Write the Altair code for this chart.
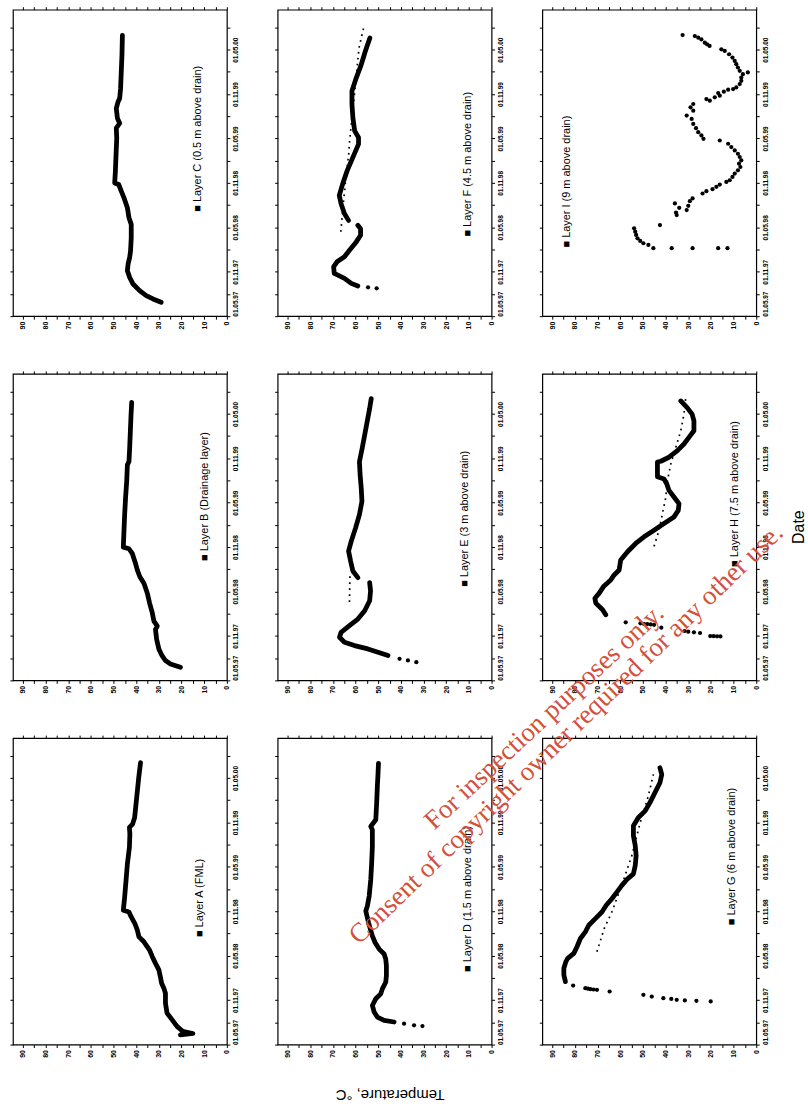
import altair as alt
import pandas as pd

# ---------------- axis definitions ----------------
T_DOMAIN = [0, 94.4]          # temperature, degC (drawn right -> left)
M_DOMAIN = [0, 41.4]          # months after 01.05.97 (drawn bottom -> top)
TEMP_TICKS = list(range(0, 95, 5))
MONTH_TICKS = list(range(0, 42, 3))
DATE_LABELS = ["01.05.97", "01.11.97", "01.05.98", "01.11.98", "01.05.99", "01.11.99", "01.05.00"]

# ---------------- data (month after 01.05.97, temperature degC) ----------------
A_LINE_MONTH = [1.3, 1.5, 1.8, 2.46, 3.36, 4.25, 5.6, 6.94, 7.6, 8.28, 9.09, 10.08, 10.97, 11.87, 12.76, 13.88,
                14.55, 15.45, 16.35, 17.24, 17.91, 18.14, 19.93, 22.17, 24.41, 26.65, 28.44, 29.33, 29.78, 30.68,
                32.47, 34.26, 36.05, 38.07]
A_LINE_TEMP = [20.5, 15.0, 19.5, 22.0, 24.2, 26.4, 27.1, 27.1, 27.8, 28.8, 29.3, 30.0, 31.5, 32.9, 34.1, 36.6,
               38.8, 39.5, 40.6, 42.2, 43.2, 45.7, 45.1, 44.5, 43.9, 43.0, 42.8, 43.0, 41.6, 40.7,
               40.1, 39.5, 38.9, 38.1]

B_LINE_MONTH = [1.78, 2.22, 2.67, 3.33, 4.22, 5.56, 6.89, 7.33, 8.0, 9.11, 10.44, 11.78, 13.11, 14.0, 14.89,
                15.78, 17.11, 17.78, 18.0, 20.22, 22.44, 24.67, 26.89, 29.11, 29.56, 31.33, 33.56, 35.78, 37.56]
B_LINE_TEMP = [20.5, 24.9, 27.1, 28.6, 30.0, 31.0, 31.5, 30.7, 32.2, 32.9, 34.1, 35.1, 36.6, 38.4, 39.5,
               40.3, 41.7, 43.2, 45.7, 45.4, 45.1, 44.7, 44.2, 43.9, 43.2, 42.9, 42.6, 42.3, 42.0]

C_LINE_MONTH = [1.88, 2.33, 2.78, 3.45, 4.34, 5.24, 6.14, 7.03, 7.93, 8.82, 10.61, 12.4, 13.3, 14.64, 15.99,
                16.88, 17.78, 18.0, 19.57, 21.81, 24.05, 25.4, 26.06, 26.73, 28.08, 28.97, 29.42, 30.77, 33.0,
                35.24, 37.93]
C_LINE_TEMP = [29.0, 32.6, 35.6, 38.5, 41.4, 42.9, 43.9, 43.6, 42.9, 42.5, 42.2, 42.2, 43.2, 43.9, 45.4,
               46.6, 47.7, 49.5, 49.2, 48.9, 48.6, 48.8, 47.3, 48.3, 48.8, 48.0, 47.3, 46.9, 46.6,
               46.3, 46.1]

D_DOT_MONTH = [2.5, 2.6, 2.82]
D_DOT_TEMP = [30.5, 34.2, 38.6]
D_LINE_MONTH = [3.05, 3.27, 3.72, 4.39, 5.28, 6.18, 6.85, 7.52, 8.42, 9.31, 10.66, 11.55, 12.23, 12.9, 13.79,
                14.69, 16.48, 18.05, 18.72, 20.06, 22.3, 24.54, 26.78, 29.02, 29.47, 30.36, 32.6, 34.84, 36.63,
                37.98]
D_LINE_TEMP = [43.0, 47.4, 50.4, 51.8, 52.6, 51.1, 48.9, 48.2, 46.7, 46.4, 46.4, 46.7, 47.4, 49.6, 51.4,
               52.6, 54.3, 55.5, 54.8, 54.0, 53.3, 52.9, 52.6, 52.6, 53.3, 51.1, 50.7, 50.4, 50.1,
               49.9]

E_DOT_MONTH = [2.46, 2.69, 2.91]
E_DOT_TEMP = [33.2, 36.9, 40.6]
E_LINE1_MONTH = [3.36, 3.81, 4.25, 4.7, 5.15, 5.82, 6.49, 7.39, 8.28, 9.4, 10.75, 12.09, 13.21]
E_LINE1_TEMP = [45.7, 50.1, 54.6, 60.5, 64.9, 67.1, 66.4, 62.7, 59.0, 56.0, 53.8, 53.4, 53.8]
E_LINE2_MONTH = [13.88, 14.78, 16.12, 17.47, 18.81, 20.6, 22.39, 24.18, 25.97, 27.76, 29.55, 31.34, 33.13,
                 34.93, 36.72, 38.06]
E_LINE2_TEMP = [59.0, 61.2, 62.2, 63.1, 61.9, 60.0, 58.3, 57.2, 57.5, 58.0, 58.3, 57.1, 56.0,
                54.9, 53.8, 53.1]
E_FIT_MONTH = [10.6, 14.2]
E_FIT_TEMP = [62.7, 62.5]

F_DOT_MONTH = [3.76, 3.9]
F_DOT_TEMP = [50.7, 54.5]
F_LINE1_MONTH = [4.08, 4.43, 5.11, 5.78, 6.67, 7.34, 8.02, 8.91, 10.03, 10.93, 11.82, 12.27]
F_LINE1_TEMP = [59.0, 61.9, 64.9, 69.4, 69.7, 68.2, 64.9, 62.7, 59.7, 57.8, 57.8, 59.0]
F_LINE2_MONTH = [12.94, 13.84, 15.18, 16.3, 17.87, 19.66, 21.45, 23.24, 24.14, 25.03, 26.82, 28.62, 30.41,
                 32.2, 33.99, 35.78, 37.57]
F_LINE2_TEMP = [63.1, 64.9, 66.4, 67.2, 65.7, 63.7, 61.2, 58.7, 58.7, 60.4, 61.2, 61.6, 61.6,
                59.7, 57.5, 55.7, 53.7]
F_FIT_MONTH = [11.4, 15.0, 18.0, 22.0, 23.5, 27.0, 30.0, 33.0, 36.2, 37.6, 39.1]
F_FIT_TEMP = [66.5, 65.5, 64.5, 63.0, 62.7, 61.5, 60.5, 59.5, 58.5, 57.5, 56.3]

G_DOT_MONTH = [5.82, 5.91, 5.96, 6.05, 6.16, 6.27, 6.49, 6.72, 7.17, 7.39, 7.44, 7.48, 7.55, 7.61, 7.97]
G_DOT_TEMP = [20.1, 26.4, 31.5, 35.1, 37.5, 41.0, 46.1, 49.8, 64.7, 70.3, 71.8, 73.2, 74.3, 75.4, 80.8]
G_LINE_MONTH = [8.5, 9.4, 10.3, 11.2, 11.64, 12.32, 13.21, 14.33, 15.23, 16.12, 17.02, 17.91, 18.81, 19.7,
                20.6, 21.5, 22.39, 23.06, 24.18, 25.52, 26.87, 28.21, 29.55, 30.68, 31.57, 32.69, 34.03,
                35.37, 36.49, 37.39]
G_LINE_TEMP = [84.2, 84.9, 84.9, 84.0, 83.2, 80.5, 79.1, 77.6, 75.4, 73.9, 71.0, 68.1, 66.2, 63.7,
               61.5, 59.3, 56.8, 54.2, 53.4, 53.0, 53.4, 54.2, 54.2, 52.0, 49.0, 46.9, 44.7,
               42.5, 41.7, 42.5]
G_FIT_MONTH = [12.54, 15.67, 17.91, 21.94, 25.52, 30.0, 33.6, 36.5]
G_FIT_TEMP = [70.3, 67.1, 63.7, 58.9, 54.9, 51.2, 47.6, 45.4]

H_DOT_MONTH = [5.93, 5.95, 5.97, 5.99, 6.4, 6.49, 6.58, 6.67, 7.12, 7.5, 7.55, 7.6, 7.65, 7.7, 7.84]
H_DOT_TEMP = [15.8, 17.3, 18.8, 20.3, 24.8, 27.5, 30.0, 31.6, 41.9, 45.1, 46.6, 48.1, 49.6, 51.1, 57.6]
H_LINE_MONTH = [8.87, 9.54, 10.43, 11.1, 11.78, 12.67, 13.57, 14.24, 14.91, 16.26, 17.38, 18.49, 19.39,
                20.29, 21.18, 22.08, 22.97, 23.87, 24.77, 25.66, 26.56, 27.2, 27.5, 29.5, 29.6, 30.14,
                31.03, 31.93, 32.82, 33.72, 35.06, 35.96, 36.85, 37.75]
H_LINE_TEMP = [66.4, 67.8, 70.8, 71.2, 69.3, 67.4, 64.2, 62.7, 60.5, 59.8, 56.8, 53.2, 49.5,
               45.1, 40.7, 36.3, 34.4, 34.1, 36.3, 38.5, 39.5, 40.7, 43.6, 43.6, 42.1, 38.5,
               34.8, 31.9, 29.7, 27.5, 27.5, 28.3, 30.5, 33.3]
H_FIT_MONTH = [18.1, 20.29, 22.53, 24.77, 27.0, 29.24, 31.48, 33.72, 35.96, 38.2]
H_FIT_TEMP = [45.1, 42.9, 41.4, 39.9, 39.2, 37.7, 35.5, 33.3, 31.9, 31.1]

I_DOT_MONTH = [9.18, 9.18, 9.18, 9.18, 9.18, 9.63, 9.85, 10.17, 10.52, 10.97, 11.42, 11.87, 12.3,
               13.66, 14.0, 14.33, 14.64, 14.91, 15.23, 15.54, 15.9, 16.57, 16.88, 17.15, 17.47, 17.78,
               18.14, 18.36, 18.81, 19.26, 19.7, 20.15, 20.6, 21.05, 21.5, 21.94, 22.39, 22.84, 23.29,
               23.73, 23.96, 24.41, 24.85, 25.39, 25.97, 26.65, 27.1, 27.76, 28.21, 28.66, 29.11, 29.33,
               29.56, 29.78, 30.14, 30.32, 30.59, 30.68, 30.9, 31.35, 31.79, 32.24, 32.69, 32.92, 33.14,
               33.59, 34.04, 34.48, 34.93, 35.38, 35.83, 36.05, 36.5, 36.72, 36.95, 37.39, 37.62, 37.84,
               37.97]
I_DOT_TEMP = [12.7, 16.8, 28.1, 37.3, 45.4, 47.6, 49.8, 51.2, 52.4, 53.0, 53.4, 53.9, 42.5,
              35.1, 35.4, 30.7, 34.0, 30.0, 35.9, 29.3, 28.1, 23.7, 22.0, 19.3, 17.6, 16.1,
              13.2, 11.7, 10.5, 9.5, 8.1, 7.0, 7.6, 6.6, 7.3, 8.1, 9.5, 11.0, 12.4,
              16.1, 23.3, 24.2, 25.6, 26.6, 27.8, 28.5, 30.7, 27.8, 29.0, 27.8, 20.5, 22.0,
              18.3, 16.1, 16.8, 14.3, 12.4, 10.2, 8.8, 7.3, 6.6, 6.6, 5.9, 3.7, 7.3,
              8.1, 8.8, 9.5, 10.5, 12.0, 13.9, 15.4, 20.6, 21.7, 22.7, 24.2, 25.6, 27.1,
              32.5]

LEGENDS = {
    "A": "\u25a0  Layer A (FML)",
    "B": "\u25a0  Layer B (Drainage layer)",
    "C": "\u25a0  Layer C (0.5 m above drain)",
    "D": "\u25a0  Layer D (1.5 m  above drain)",
    "E": "\u25a0  Layer E (3 m  above drain)",
    "F": "\u25a0  Layer F (4.5 m  above drain)",
    "G": "\u25a0  Layer G (6 m  above drain)",
    "H": "\u25a0  Layer H (7.5 m  above drain)",
    "I": "\u25a0  Layer I (9 m  above drain)",
}

# ---------------- styling ----------------
PW, PH = 215, 308
FONT = "Liberation Sans"
XS = alt.Scale(domain=T_DOMAIN, reverse=True, nice=False, zero=False)
YS = alt.Scale(domain=M_DOMAIN, nice=False, zero=False)

date_expr = "datum.value % 6 == 0 ? [" + ",".join("'%s'" % d for d in DATE_LABELS) + "][datum.value / 6] : ''"
temp_expr = "datum.value % 10 == 0 ? datum.label : ''"

X_MAIN = alt.Axis(orient="bottom", values=TEMP_TICKS, labelExpr=temp_expr, labelAngle=270,
                  labelAlign="right", labelBaseline="middle", labelPadding=2, labelFontSize=7,
                  labelFont=FONT, labelFontWeight="bold", labelColor="black", labelOverlap=False,
                  tickColor="black", tickSize=3, domain=False, grid=False, title=None)
X_MIRROR = alt.Axis(orient="top", values=TEMP_TICKS, labels=False, tickColor="black", tickSize=3,
                    domain=False, grid=False, title=None)
Y_MAIN = alt.Axis(orient="right", values=MONTH_TICKS, labelExpr=date_expr, labelAngle=270,
                  labelAlign={"condition": {"test": "datum.value == 0", "value": "left"}, "value": "center"},
                  labelBaseline="top", labelPadding=3, labelFontSize=6.5, labelFont=FONT,
                  labelFontWeight="bold", labelColor="black", labelOverlap=False,
                  tickColor="black", tickSize=3, domain=False, grid=False, title=None)
Y_MIRROR = alt.Axis(orient="left", values=MONTH_TICKS, labels=False, tickColor="black", tickSize=3,
                    domain=False, grid=False, title=None)


def frame(segs):
    rows = []
    for s, (ms, ts) in enumerate(segs):
        for k, (m, t) in enumerate(zip(ms, ts)):
            rows.append({"month": m, "temp": t, "seg": s, "k": k})
    return pd.DataFrame(rows, columns=["month", "temp", "seg", "k"])


def one():
    return pd.DataFrame({"a": [0]})


def panel(key, lines=(), dots=(), fit=(), lx=190, ly=200, extra=()):
    ldf, ddf, fdf = frame(lines), frame(dots), frame(fit)
    alld = pd.concat([ldf, ddf, fdf], ignore_index=True)
    layers = [
        alt.Chart(alld).mark_point(opacity=0).encode(
            x=alt.X("temp:Q", scale=XS, axis=X_MAIN), y=alt.Y("month:Q", scale=YS, axis=Y_MAIN)),
        alt.Chart(alld).mark_point(opacity=0).encode(
            x=alt.X("temp:Q", scale=XS, axis=X_MIRROR), y=alt.Y("month:Q", scale=YS, axis=Y_MIRROR)),
    ]
    if len(fdf):
        layers.append(alt.Chart(fdf).mark_line(color="black", strokeWidth=1.7, strokeDash=[1.7, 4.3]).encode(
            x=alt.X("temp:Q", scale=XS, axis=None), y=alt.Y("month:Q", scale=YS, axis=None),
            detail="seg:N", order="k:Q"))
    if len(ldf):
        layers.append(alt.Chart(ldf).mark_line(color="black", strokeWidth=4.8, strokeCap="round",
                                               strokeJoin="round").encode(
            x=alt.X("temp:Q", scale=XS, axis=None), y=alt.Y("month:Q", scale=YS, axis=None),
            detail="seg:N", order="k:Q"))
    if len(ddf):
        layers.append(alt.Chart(ddf).mark_circle(color="black", opacity=1, size=18).encode(
            x=alt.X("temp:Q", scale=XS, axis=None), y=alt.Y("month:Q", scale=YS, axis=None)))
    layers.append(alt.Chart(one()).mark_text(text=LEGENDS[key], angle=270, align="left", baseline="middle",
                                             fontSize=11, font=FONT, color="black").encode(
        x=alt.value(lx), y=alt.value(ly)))
    layers.extend(extra)
    return alt.layer(*layers).resolve_axis(x="independent", y="independent").properties(width=PW, height=PH)


temp_title = alt.Chart(one()).mark_text(text="Temperature, \u00b0C", angle=180, align="center", baseline="middle",
                                        fontSize=15, font=FONT, color="black").encode(
    x=alt.value(113), y=alt.value(359))
date_title = alt.Chart(one()).mark_text(text="Date", angle=270, align="center", baseline="middle",
                                        fontSize=16, font=FONT, color="black").encode(
    x=alt.value(258), y=alt.value(154))
wm1 = alt.Chart(one()).mark_text(text="For inspection purposes only.", angle=317, align="center",
                                 baseline="middle", fontSize=27, font="Liberation Serif",
                                 color="#d4503a").encode(x=alt.value(2), y=alt.value(-21))
wm2 = alt.Chart(one()).mark_text(text="Consent of copyright owner required for any other use.", angle=316,
                                 align="center", baseline="middle", fontSize=27, font="Liberation Serif",
                                 color="#d4503a").encode(x=alt.value(24), y=alt.value(-4))

pA = panel("A", lines=[(A_LINE_MONTH, A_LINE_TEMP)], lx=188, ly=200)
pB = panel("B", lines=[(B_LINE_MONTH, B_LINE_TEMP)], lx=193, ly=188)
pC = panel("C", lines=[(C_LINE_MONTH, C_LINE_TEMP)], lx=186, ly=203)
pD = panel("D", lines=[(D_LINE_MONTH, D_LINE_TEMP)], dots=[(D_DOT_MONTH, D_DOT_TEMP)], lx=191, ly=235,
           extra=[temp_title])
pE = panel("E", lines=[(E_LINE1_MONTH, E_LINE1_TEMP), (E_LINE2_MONTH, E_LINE2_TEMP)],
           dots=[(E_DOT_MONTH, E_DOT_TEMP)], fit=[(E_FIT_MONTH, E_FIT_TEMP)], lx=188, ly=214)
pF = panel("F", lines=[(F_LINE1_MONTH, F_LINE1_TEMP), (F_LINE2_MONTH, F_LINE2_TEMP)],
           dots=[(F_DOT_MONTH, F_DOT_TEMP)], fit=[(F_FIT_MONTH, F_FIT_TEMP)], lx=191, ly=228)
pG = panel("G", lines=[(G_LINE_MONTH, G_LINE_TEMP)], dots=[(G_DOT_MONTH, G_DOT_TEMP)],
           fit=[(G_FIT_MONTH, G_FIT_TEMP)], lx=191, ly=188, extra=[wm1, wm2])
pH = panel("H", lines=[(H_LINE_MONTH, H_LINE_TEMP)], dots=[(H_DOT_MONTH, H_DOT_TEMP)],
           fit=[(H_FIT_MONTH, H_FIT_TEMP)], lx=194, ly=194, extra=[date_title])
pI = panel("I", dots=[(I_DOT_MONTH, I_DOT_TEMP)], lx=25, ly=239)

chart = alt.concat(pC, pF, pI, pB, pE, pH, pA, pD, pG, columns=3,
                   spacing={"row": 58, "column": 51}, bounds="flush").properties(
    padding={"left": 8, "top": 2, "right": 0, "bottom": 0}, background="white"
).configure_view(stroke="black", strokeWidth=1.2)

chart.save("out.html", embed_options={"renderer": "svg", "actions": False})
